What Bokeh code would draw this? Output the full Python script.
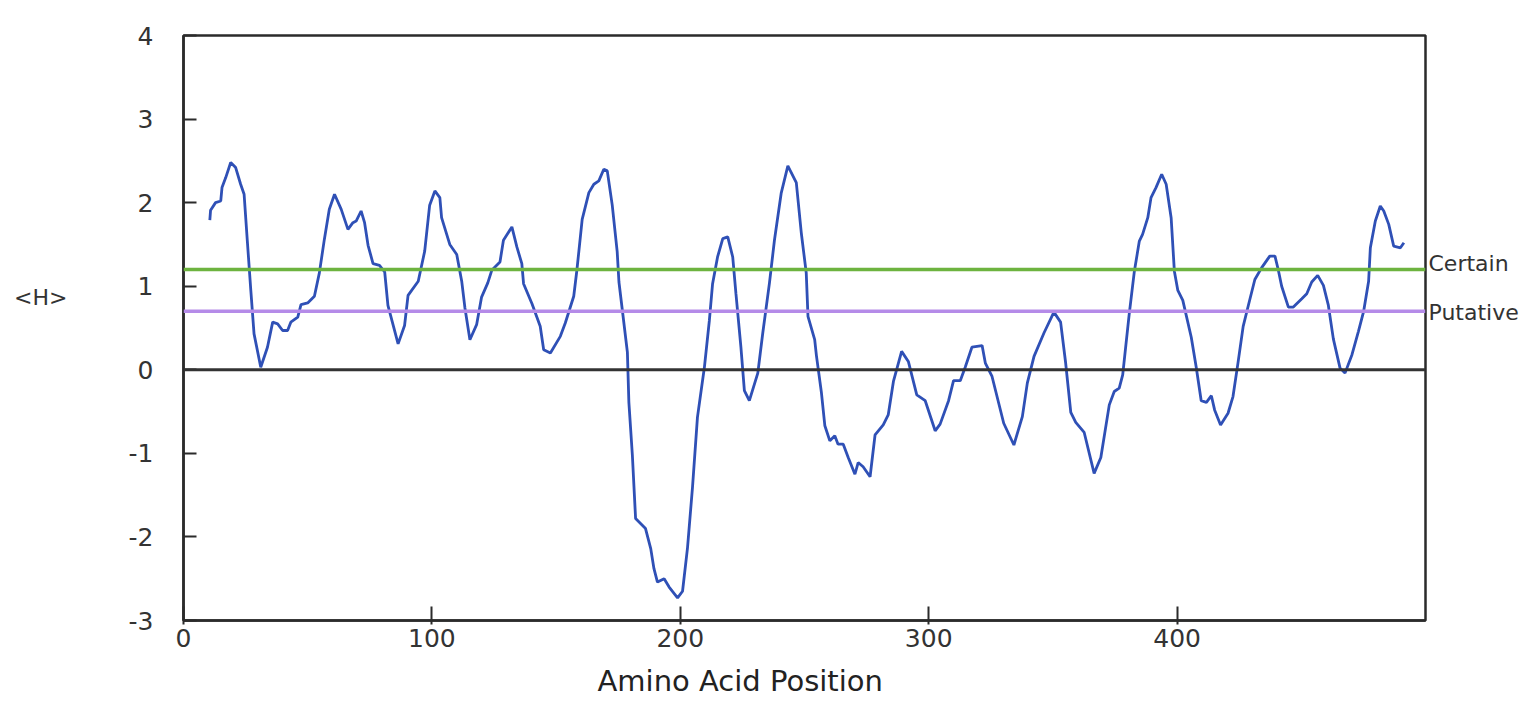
from bokeh.plotting import figure
from bokeh.models import Span, LinearAxis, Title, FixedTicker
from bokeh.embed import file_html
from bokeh.resources import INLINE

# ---- data ----
position = [
    10.6, 10.9, 12.9, 15.0, 15.5, 17.0, 19.0, 21.0, 23.0, 24.4,
    25.7, 27.1, 28.4, 31.1, 33.8, 35.9, 37.9, 39.9, 41.9, 43.2,
    46.0, 47.3, 50.0, 52.7, 54.7, 56.7, 58.7, 60.8, 63.5, 66.2,
    68.2, 69.5, 71.5, 72.9, 74.3, 76.3, 78.9, 81.0, 82.3, 86.4,
    89.0, 90.4, 94.5, 97.1, 99.1, 101.2, 103.2, 103.9, 107.2, 110.0,
    112.0, 113.3, 115.3, 118.0, 120.0, 122.5, 124.1, 127.4, 128.8, 132.2,
    134.2, 136.2, 136.9, 140.3, 143.6, 145.0, 147.7, 151.7, 153.7, 157.1,
    158.4, 160.5, 163.2, 165.2, 167.2, 169.2, 170.6, 172.6, 174.6, 175.3,
    176.6, 178.7, 179.3, 180.7, 182.0, 184.0, 186.0, 188.1, 189.4, 190.8,
    193.5, 195.5, 198.9, 200.9, 202.9, 204.9, 206.9, 209.7, 211.7, 213.0,
    215.0, 217.1, 219.1, 221.1, 222.4, 224.4, 225.8, 227.8, 231.2, 233.2,
    235.9, 237.9, 240.6, 243.3, 246.7, 248.7, 250.7, 251.4, 254.1, 254.8,
    256.8, 258.2, 260.2, 262.2, 263.5, 265.6, 267.6, 270.3, 271.6, 273.6,
    276.4, 278.4, 281.7, 283.7, 285.8, 289.1, 291.8, 295.2, 298.6, 302.6,
    304.6, 308.0, 310.0, 312.7, 314.7, 317.4, 321.5, 322.8, 325.5, 330.2,
    334.3, 337.7, 339.7, 342.4, 346.4, 350.4, 353.1, 355.1, 357.2, 359.2,
    362.6, 366.6, 369.3, 372.7, 374.7, 376.7, 378.1, 379.4, 380.7, 382.8,
    384.8, 386.1, 388.2, 389.5, 391.5, 393.8, 395.6, 397.6, 398.9, 400.3,
    402.3, 405.7, 407.7, 409.7, 411.8, 413.8, 415.1, 417.5, 420.5, 422.5,
    424.5, 426.6, 428.6, 431.3, 434.0, 437.3, 439.4, 440.7, 442.1, 444.8,
    446.8, 450.2, 452.2, 454.2, 456.6, 458.9, 460.9, 462.9, 465.6, 467.6,
    470.4, 473.0, 475.1, 477.1, 477.8, 479.8, 481.8, 483.2, 485.2, 487.2,
    489.9, 491.3,
]
hydrophobicity = [
    1.79, 1.91, 2.00, 2.02, 2.18, 2.30, 2.48, 2.42, 2.22, 2.10,
    1.54, 0.95, 0.43, 0.03, 0.27, 0.57, 0.55, 0.47, 0.47, 0.57,
    0.63, 0.78, 0.80, 0.88, 1.16, 1.56, 1.92, 2.10, 1.92, 1.68,
    1.76, 1.78, 1.90, 1.76, 1.49, 1.27, 1.25, 1.17, 0.77, 0.31,
    0.53, 0.89, 1.06, 1.42, 1.97, 2.14, 2.06, 1.82, 1.50, 1.38,
    1.06, 0.74, 0.36, 0.54, 0.87, 1.04, 1.19, 1.29, 1.55, 1.71,
    1.47, 1.27, 1.03, 0.79, 0.52, 0.24, 0.20, 0.40, 0.56, 0.88,
    1.20, 1.80, 2.12, 2.22, 2.26, 2.40, 2.38, 1.97, 1.41, 1.05,
    0.73, 0.21, -0.39, -1.02, -1.78, -1.84, -1.90, -2.14, -2.38, -2.54,
    -2.50, -2.60, -2.73, -2.65, -2.13, -1.41, -0.57, 0.03, 0.59, 1.03,
    1.35, 1.57, 1.59, 1.35, 0.91, 0.27, -0.25, -0.37, -0.04, 0.44,
    1.04, 1.55, 2.11, 2.44, 2.24, 1.64, 1.16, 0.64, 0.36, 0.17,
    -0.27, -0.67, -0.85, -0.79, -0.89, -0.89, -1.05, -1.25, -1.11, -1.16,
    -1.28, -0.78, -0.66, -0.54, -0.14, 0.22, 0.10, -0.30, -0.37, -0.73,
    -0.65, -0.37, -0.13, -0.13, 0.03, 0.27, 0.29, 0.08, -0.08, -0.64,
    -0.90, -0.56, -0.16, 0.16, 0.44, 0.69, 0.57, 0.09, -0.51, -0.63,
    -0.75, -1.24, -1.05, -0.42, -0.26, -0.22, -0.06, 0.30, 0.66, 1.18,
    1.54, 1.62, 1.82, 2.06, 2.18, 2.34, 2.22, 1.82, 1.18, 0.95,
    0.83, 0.39, 0.03, -0.37, -0.39, -0.31, -0.48, -0.66, -0.52, -0.32,
    0.08, 0.52, 0.76, 1.08, 1.22, 1.36, 1.36, 1.20, 1.00, 0.75,
    0.75, 0.85, 0.91, 1.05, 1.13, 1.01, 0.77, 0.37, 0.02, -0.04,
    0.18, 0.46, 0.70, 1.06, 1.46, 1.78, 1.96, 1.90, 1.74, 1.48,
    1.46, 1.52,
]
certain_level = 1.2
putative_level = 0.7
threshold_names = ["Certain", "Putative"]
x_ticks = [0, 100, 200, 300, 400]
x_tick_labels = ["0", "100", "200", "300", "400"]
y_ticks = [-3, -2, -1, 0, 1, 2, 3, 4]
y_tick_labels = ["-3", "-2", "-1", "0", "1", "2", "3", "4"]
y_title = "<H>"
x_title = "Amino Acid Position"

FONT = "DejaVu Sans"
INK = "#2b2b2b"
TXT = "#333333"

p = figure(width=1534, height=710, x_range=(0, 500), y_range=(-3, 4),
           output_backend="svg", toolbar_location=None,
           min_border_left=183, min_border_right=109,
           min_border_top=35, min_border_bottom=90)
p.background_fill_color = "white"
p.border_fill_color = "white"
p.outline_line_color = INK
p.outline_line_width = 2.5
p.xgrid.visible = False
p.ygrid.visible = False

# main axes
for ax in (p.xaxis[0], p.yaxis[0]):
    ax.axis_line_color = INK
    ax.axis_line_width = 2.5
    ax.major_tick_line_color = INK
    ax.major_tick_line_width = 2
    ax.minor_tick_line_color = None
    ax.major_label_text_font = FONT
    ax.major_label_text_color = TXT
    ax.major_label_text_font_size = "25px"

p.xaxis.ticker = FixedTicker(ticks=x_ticks)
p.xaxis.major_tick_in = 14
p.xaxis.major_tick_out = 4
p.xaxis.major_label_standoff = 4
p.xaxis.major_label_overrides = {t: s for t, s in zip(x_ticks, x_tick_labels)}

p.yaxis.ticker = FixedTicker(ticks=y_ticks)
p.yaxis.major_tick_in = 13
p.yaxis.major_tick_out = 0
p.yaxis.major_label_standoff = 30
p.yaxis.major_label_overrides = {t: s for t, s in zip(y_ticks, y_tick_labels)}

# "<H>" as a horizontal label on an outer, line-less left axis
h_pos = 0.87
h_axis = LinearAxis(ticker=FixedTicker(ticks=[h_pos]),
                    major_label_overrides={h_pos: y_title},
                    axis_line_color=None, major_tick_line_color=None,
                    minor_tick_line_color=None, major_tick_in=0, major_tick_out=0,
                    major_label_standoff=58, major_label_text_font=FONT,
                    major_label_text_font_size="22px", major_label_text_color=TXT)
p.add_layout(h_axis, "left")

# threshold names on a line-less right axis
name_pos = [certain_level + 0.07, putative_level - 0.02]
r_axis = LinearAxis(ticker=FixedTicker(ticks=name_pos),
                    major_label_overrides={t: s for t, s in zip(name_pos, threshold_names)},
                    axis_line_color=None, major_tick_line_color=None,
                    minor_tick_line_color=None, major_tick_in=0, major_tick_out=0,
                    major_label_standoff=3, major_label_text_font=FONT,
                    major_label_text_font_size="22px", major_label_text_color=TXT)
p.add_layout(r_axis, "right")

# x axis title, shifted left like the original
p.add_layout(Title(text=x_title, align="left", offset=414, standoff=24,
                   text_font=FONT, text_font_size="29px", text_font_style="normal",
                   text_color="#222222"), "below")

# reference lines
p.add_layout(Span(location=0, dimension="width", line_color="#333333", line_width=3))
p.add_layout(Span(location=certain_level, dimension="width", line_color="#6db33f", line_width=3.5))
p.add_layout(Span(location=putative_level, dimension="width", line_color="#b58be8", line_width=3.5))

# hydropathy profile
p.line(position, hydrophobicity, line_color="#2f50b6", line_width=2.8)

open("out.html", "w").write(file_html(p, INLINE))
